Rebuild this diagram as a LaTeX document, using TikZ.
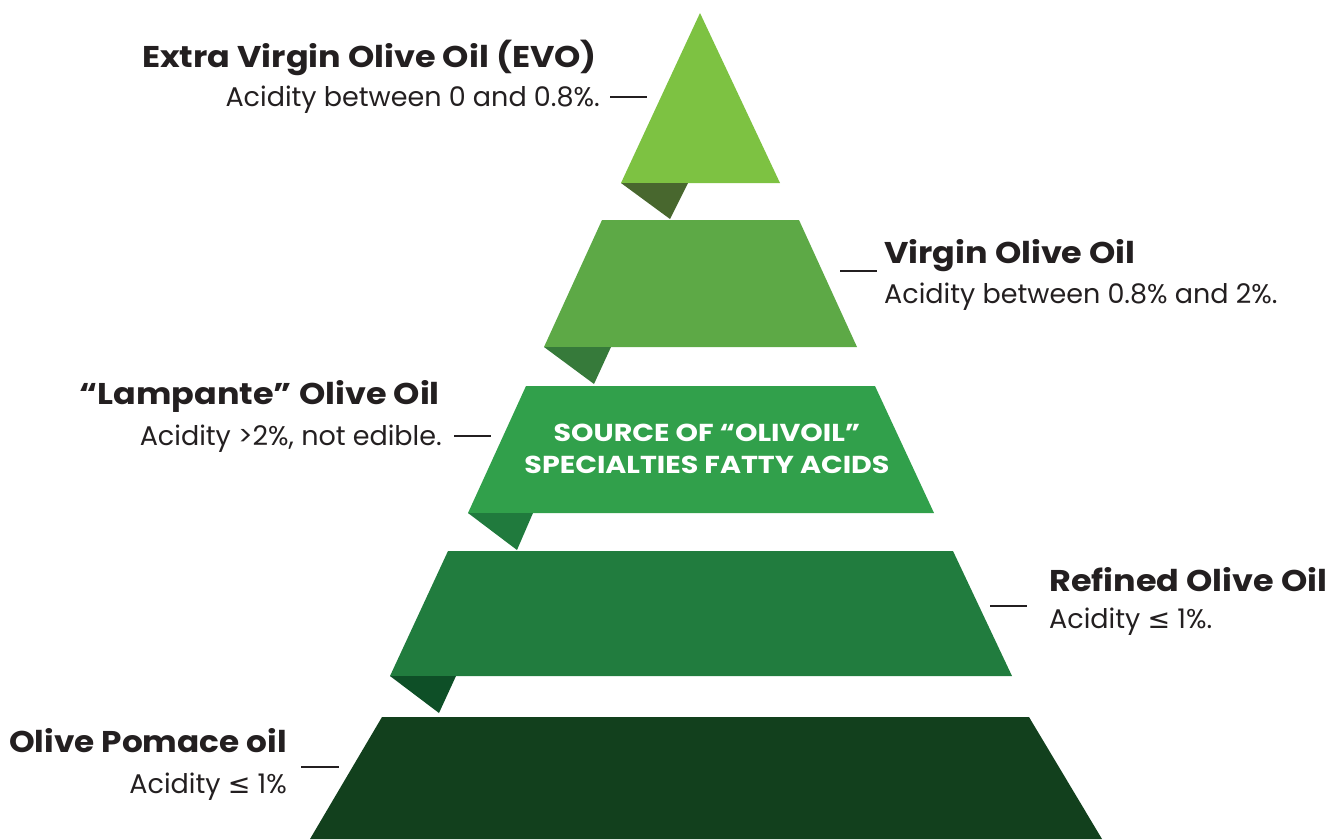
\documentclass[tikz,border=0pt]{standalone}
\usepackage{fontspec}
\setmainfont{Poppins}
\newfontfamily\symf{DejaVu Sans}
\definecolor{tA}{HTML}{7DC242}
\definecolor{fA}{HTML}{48672E}
\definecolor{tB}{HTML}{5DA946}
\definecolor{fB}{HTML}{367A3A}
\definecolor{tC}{HTML}{31A04B}
\definecolor{fC}{HTML}{207A3D}
\definecolor{tD}{HTML}{217C3E}
\definecolor{fD}{HTML}{0E4F27}
\definecolor{tE}{HTML}{12401D}
\definecolor{ink}{HTML}{231F20}
\newcommand{\widebold}[1]{\scalebox{1.115}[1]{#1}}
\newcommand{\widecaps}[1]{\scalebox{1.165}[1]{#1}}
\tikzset{
  lbl/.style={font=\fontsize{30}{30}\selectfont\bfseries, text=ink, inner sep=0pt},
  sub/.style={font=\fontsize{27}{27}\selectfont, text=ink, inner sep=0pt},
  srctext/.style={font=\fontsize{24.5}{24.5}\selectfont\bfseries, text=white, inner sep=0pt},
  tick/.style={draw=ink, line width=2.6pt},
}
\begin{document}
\begin{tikzpicture}[x=1pt,y=-1pt]
\useasboundingbox (0,0) rectangle (1341,839);
% tiers
\fill[tA] (700,13) -- (780,183) -- (621,183) -- cycle;
\fill[fA] (621,183) -- (688,183) -- (670,219) -- cycle;
\fill[tB] (602,220) -- (799,220) -- (857,347) -- (544,347) -- cycle;
\fill[fB] (544,347) -- (611,347) -- (594,384) -- cycle;
\fill[tC] (526,386) -- (875,386) -- (934,513) -- (468,513) -- cycle;
\fill[fC] (468,513) -- (533,513) -- (517,550) -- cycle;
\fill[tD] (448,551) -- (953,551) -- (1012,676) -- (390,676) -- cycle;
\fill[fD] (390,676) -- (456,676) -- (439,713) -- cycle;
\fill[tE] (382,717) -- (1029,717) -- (1102,839) -- (310,839) -- cycle;
% centre text
\node[srctext, anchor=base] (src1) at (707,441) {\widecaps{SOURCE OF “OLIVOIL”}};
\node[srctext, anchor=base] (src2) at (707,473) {\widecaps{SPECIALTIES FATTY ACIDS}};
% labels
\node[lbl, anchor=base east] (evo) at (597,67) {\widebold{Extra Virgin Olive Oil (EVO)}};
\node[sub, anchor=base east] (evos) at (600,106) {Acidity between 0 and 0.8\%.};
\coordinate (evoa) at (610,97); \coordinate (evob) at (647,97);
\draw[tick] (evoa) -- (evob);

\node[lbl, anchor=base west] (vir) at (884,263) {\widebold{Virgin Olive Oil}};
\node[sub, anchor=base west] (virs) at (884,303) {Acidity between 0.8\% and 2\%.};
\coordinate (vira) at (840,271); \coordinate (virb) at (877,271);
\draw[tick] (vira) -- (virb);

\node[lbl, anchor=base east] (lam) at (440,404) {\widebold{“Lampante” Olive Oil}};
\node[sub, anchor=base east] (lams) at (442,445) {Acidity >2\%, not edible.};
\coordinate (lama) at (454,436); \coordinate (lamb) at (491,436);
\draw[tick] (lama) -- (lamb);

\node[lbl, anchor=base west] (ref) at (1049,591) {\widebold{Refined Olive Oil}};
\node[sub, anchor=base west] (refs) at (1049,628) {Acidity {\symf≤} 1\%.};
\coordinate (refa) at (990,606); \coordinate (refb) at (1027,606);
\draw[tick] (refa) -- (refb);

\node[lbl, anchor=base east] (pom) at (287,752) {\scalebox{1.09}[1]{Olive Pomace oil}};
\node[sub, anchor=base east] (poms) at (287,793) {Acidity {\symf≤} 1\%};
\coordinate (poma) at (301,767); \coordinate (pomb) at (339,767);
\draw[tick] (poma) -- (pomb);
\end{tikzpicture}
\end{document}
